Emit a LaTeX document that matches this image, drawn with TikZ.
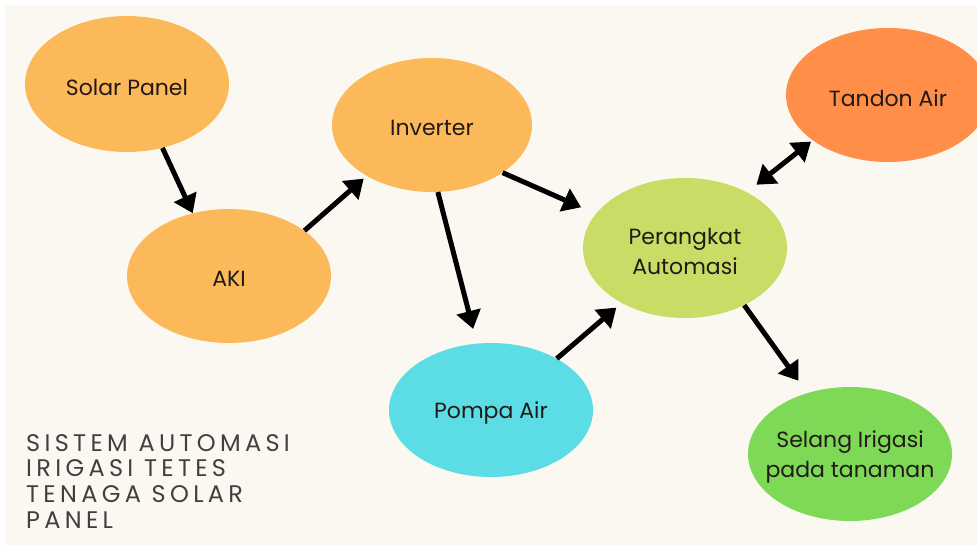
\documentclass[tikz,border=0pt]{standalone}
\usepackage{fontspec}
\setmainfont{Poppins}
\newfontfamily\titlefont[LetterSpace=18]{Poppins}
\usetikzlibrary{shapes.geometric,arrows.meta}
\definecolor{bgcream}{HTML}{FBF8F2}
\definecolor{orangeA}{HTML}{FCB95A}
\definecolor{orangeB}{HTML}{FF8F48}
\definecolor{limeA}{HTML}{C9DD66}
\definecolor{cyanA}{HTML}{5CDCE4}
\definecolor{greenA}{HTML}{7ED957}
\definecolor{txtdark}{HTML}{231A18}
\definecolor{titlegray}{HTML}{404040}
\begin{document}
\begin{tikzpicture}[x=1pt,y=-1pt,
  bubble/.style={ellipse, minimum width=204pt, minimum height=134pt, inner sep=0pt},
  bubbletext/.style={font=\fontsize{22}{30}\selectfont, text=txtdark, align=center,
    inner sep=0pt, yshift=-3pt},
  flow/.style={line width=5pt, -{Triangle[length=18pt,width=24pt]}},
  bothflow/.style={line width=5pt, {Triangle[length=18pt,width=24pt]}-{Triangle[length=18pt,width=24pt]}}]
\useasboundingbox (0,0) rectangle (977,545);
\clip (0,0) rectangle (977,545);
\fill[white] (0,0) rectangle (977,545);
\fill[bgcream] (5,5) rectangle (977,545);
% nodes
\node[bubble, fill=orangeA, minimum height=136pt,
  label={[bubbletext]center:Solar Panel}] (solar) at (127,84) {};
\node[bubble, fill=orangeA, label={[bubbletext]center:AKI}] (aki) at (229,276) {};
\node[bubble, fill=orangeA, minimum width=200pt,
  label={[bubbletext]center:Inverter}] (inv) at (432,125) {};
\node[bubble, fill=limeA, minimum height=140pt,
  label={[bubbletext]center:{Perangkat\\Automasi}}] (per) at (685,248) {};
\node[bubble, fill=orangeB, label={[bubbletext]center:Tandon Air}] (tandon) at (888,95) {};
\node[bubble, fill=cyanA, label={[bubbletext]center:Pompa Air}] (pompa) at (491,410) {};
\node[bubble, fill=greenA,
  label={[bubbletext]center:{Selang Irigasi\\pada tanaman}}] (selang) at (850,454) {};
% title
\node[anchor=north west, inner sep=0pt, align=left, text=titlegray,
  font=\titlefont\fontsize{24}{25.7}\selectfont] (title) at (26,434)
  {SISTEM AUTOMASI\\IRIGASI TETES\\TENAGA SOLAR\\PANEL};
% connectors
\draw[flow] (solar.-61) -- (aki.120);
\draw[flow, shorten >=4pt] (aki.31) -- (inv.-142);
\draw[flow, shorten >=16pt] (inv.-34) -- (per.159);
\draw[flow, shorten >=15pt] (inv.-85) -- (pompa.102);
\draw[flow, shorten >=7pt] (pompa.38) -- (per.-139);
\draw[bothflow, shorten <=12pt, shorten >=2pt] (per.42) -- (tandon.-149);
\draw[flow, shorten >=15pt] (per.-44) -- (selang.125);
\end{tikzpicture}
\end{document}
